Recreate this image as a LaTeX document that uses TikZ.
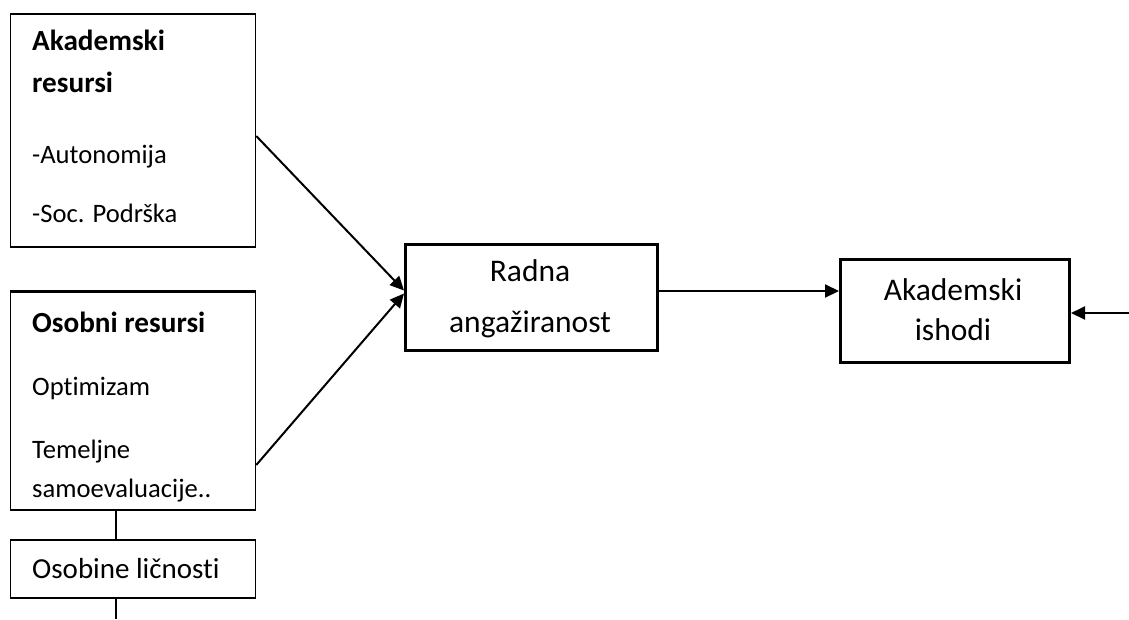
\documentclass[tikz,border=0pt]{standalone}
\usepackage{fontspec}
\setmainfont[RawFeature=-liga]{Carlito}
\usetikzlibrary{arrows.meta}

\tikzset{
	thinbox/.style={draw, line width=1.5pt, inner sep=0pt},
	thickbox/.style={draw, line width=3pt, inner sep=0pt},
	txt/.style={anchor=base west, inner sep=0pt, font=\fontsize{26.6}{32}\selectfont},
	headtxt/.style={anchor=base west, inner sep=0pt, font=\fontsize{29.2}{35}\selectfont\bfseries},
	ctxt/.style={anchor=base, inner sep=0pt, font=\fontsize{31.5}{38}\selectfont},
	arr/.style={line width=2pt, -{Triangle[length=14pt,width=13pt]}}
}

\begin{document}
\begin{tikzpicture}[x=1pt, y=-1pt]
			%%%%% START %%%%%
			\useasboundingbox (0, 0) rectangle (1129, 619);
			
			\node[thinbox, minimum width=245pt, minimum height=233pt] (akad) at (133, 130.5) {};
			\node[headtxt] (akad1) at (32, 50) {Akademski};
			\node[headtxt] (akad2) at (32, 92) {resursi};
			\node[txt] (akad3) at (32, 163) {-Autonomija};
			\node[txt] (akad4) at (32, 222) {-Soc. Podrška};
			
			\node[thinbox, minimum width=245pt, minimum height=218pt] (osob) at (133, 401) {};
			\draw[line width=3pt] (osob.north west) -- (osob.north east);
			\node[headtxt] (osob1) at (32, 332) {Osobni resursi};
			\node[txt] (osob2) at (32, 395) {Optimizam};
			\node[txt] (osob3) at (32, 458) {Temeljne};
			\node[txt] (osob4) at (32, 497) {samoevaluacije..};
			
			\node[thinbox, minimum width=245pt, minimum height=58pt] (licn) at (133, 569) {};
			\node[txt, font=\fontsize{29}{35}\selectfont] (licn1) at (32, 578) {Osobine ličnosti};
			
			\node[thickbox, minimum width=252pt, minimum height=106pt] (radna) at (531.5, 297.5) {};
			\node[ctxt] (radna1) at (530, 281) {Radna};
			\node[ctxt] (radna2) at (530, 332) {angažiranost};
			
			\node[thickbox, minimum width=229pt, minimum height=103pt] (ishod) at (955, 311) {};
			\node[ctxt] (ishod1) at (953, 300) {Akademski};
			\node[ctxt] (ishod2) at (953, 340) {ishodi};
			
			\coordinate (dno) at (116, 619);
			\coordinate (desno) at (1129, 313);
			
			\draw[arr] ([yshift=-5.5pt]akad.east) -- ([yshift=7pt]radna.west);
			\draw[arr] ([yshift=-64pt]osob.east) -- ([yshift=4pt]radna.west);
			\draw[arr] ([yshift=6.5pt]radna.east) -- ([yshift=20pt]ishod.west);
			\draw[arr] (desno) -- (ishod.east |- desno);
			
			\draw[line width=1.5pt] ([xshift=-17pt]osob.south) -- ([xshift=-17pt]licn.north);
			\draw[line width=1.5pt] ([xshift=-17pt]licn.south) -- (dno);
			
			%%%%% END %%%%%
\end{tikzpicture}
\end{document}
